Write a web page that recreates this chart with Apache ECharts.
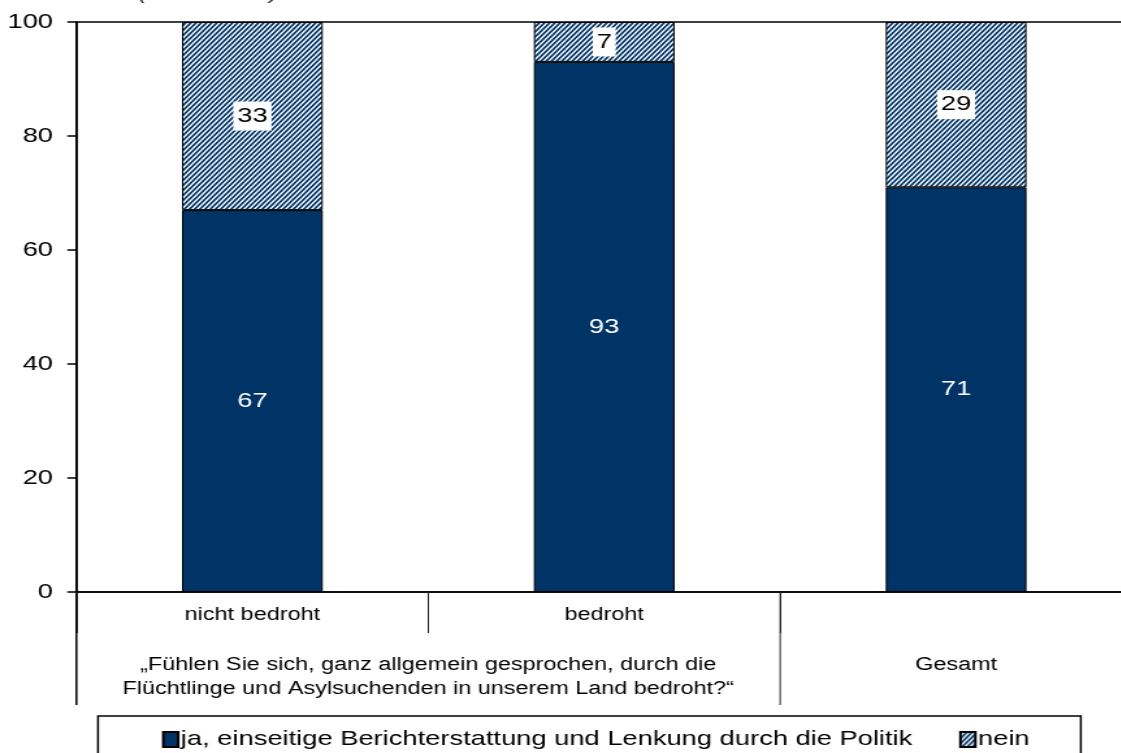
<!DOCTYPE html>
<html>
<head>
<meta charset="utf-8">
<script src="https://cdn.jsdelivr.net/npm/echarts@6/dist/echarts.min.js"></script>
<style>
html,body{margin:0;padding:0;background:#fff;overflow:hidden}
#wrap{width:1121px;height:753px;overflow:hidden;position:relative}
#c{width:900px;height:753px;transform:scaleX(1.3);transform-origin:0 0;position:absolute;left:0;top:0}
</style>
</head>
<body>
<div id="wrap"><div id="c"></div></div>
<script>
// ---- data ----
var categories = ['nicht bedroht', 'bedroht', 'Gesamt'];
var seriesNames = ['ja, einseitige Berichterstattung und Lenkung durch die Politik', 'nein'];
var jaValues = [67, 93, 71];
var neinValues = [33, 7, 29];
var yTicks = [0, 20, 40, 60, 80, 100];
var groupLabel = '\u201EF\u00FChlen Sie sich, ganz allgemein gesprochen, durch die\nFl\u00FCchtlinge und Asylsuchenden in unserem Land bedroht?\u201C';
var totalLabel = 'Gesamt';
var unitLabel = '(in Prozent)';

var NAVY = [0, 51, 102];
var NAVY_HEX = '#003366';
var FONT = 'Liberation Sans, Arial, sans-serif';

function makePattern() {
  var w = 4, h = 5, ss = 6;
  var cv = document.createElement('canvas');
  cv.width = w; cv.height = h;
  var ctx = cv.getContext('2d');
  var img = ctx.createImageData(w, h);
  for (var y = 0; y < h; y++) {
    for (var x = 0; x < w; x++) {
      var cov = 0;
      for (var sy = 0; sy < ss; sy++) {
        for (var sx = 0; sx < ss; sx++) {
          var px = x + (sx + 0.5) / ss, py = y + (sy + 0.5) / ss;
          var f = (px / w + py / h) % 1;
          if (f < 0.55) cov++;
        }
      }
      cov /= ss * ss;
      var i = (y * w + x) * 4;
      img.data[i] = Math.round(255 + (NAVY[0] - 255) * cov);
      img.data[i + 1] = Math.round(255 + (NAVY[1] - 255) * cov);
      img.data[i + 2] = Math.round(255 + (NAVY[2] - 255) * cov);
      img.data[i + 3] = 255;
    }
  }
  ctx.putImageData(img, 0, 0);
  return { image: cv, repeat: 'repeat' };
}
var hatch = makePattern();

var chart = echarts.init(document.getElementById('c'));
var option = {
  animation: false,
  backgroundColor: '#fff',
  grid: { left: 58.8, top: 22, width: 812, bottom: 161, show: true, borderColor: '#000', borderWidth: 1.5, backgroundColor: 'transparent' },
  xAxis: {
    type: 'category',
    data: categories,
    axisLine: { lineStyle: { color: '#000', width: 1.5 } },
    axisTick: { show: true, length: 41, lineStyle: { color: '#222', width: 1 } },
    axisLabel: { fontFamily: FONT, fontSize: 18, color: '#000', margin: 14,
      formatter: function (v) { return v === totalLabel ? '' : v; } }
  },
  yAxis: {
    type: 'value', min: yTicks[0], max: yTicks[yTicks.length - 1], interval: 20,
    axisLine: { show: true, lineStyle: { color: '#000', width: 1.5 } },
    axisTick: { show: true, length: 7, lineStyle: { color: '#000', width: 1.5 } },
    splitLine: { show: false },
    axisLabel: { fontFamily: FONT, fontSize: 21, color: '#000', margin: 18 }
  },
  legend: {
    left: 124.6, top: 729, padding: 0, itemGap: 36, itemWidth: 11.5, itemHeight: 15, icon: 'rect',
    textStyle: { fontFamily: FONT, fontSize: 21, lineHeight: 21, color: '#000', padding: [0, 0, 0, -3] },
    data: seriesNames
  },
  series: [
    {
      name: seriesNames[0], type: 'bar', stack: 's', barWidth: '40%', data: jaValues,
      itemStyle: { color: NAVY_HEX, borderColor: '#000', borderWidth: 1 },
      label: { show: true, position: 'inside', color: '#fff', fontFamily: FONT, fontSize: 21 }
    },
    {
      name: seriesNames[1], type: 'bar', stack: 's', barWidth: '40%', data: neinValues,
      itemStyle: { color: hatch, borderColor: '#000', borderWidth: 1 },
      label: { show: true, position: 'inside', color: '#000', fontFamily: FONT, fontSize: 21,
        backgroundColor: '#fff', padding: [5, 3, 3, 3] }
    }
  ]
};
chart.setOption(option);

var p0 = chart.convertToPixel({ gridIndex: 0 }, [0, 0]);
var p1 = chart.convertToPixel({ gridIndex: 0 }, [1, 0]);
var p2 = chart.convertToPixel({ gridIndex: 0 }, [2, 0]);
var y0 = p0[1];
var band = p1[0] - p0[0];
var leftX = p0[0] - band / 2;
var splitX = (p1[0] + p2[0]) / 2;
var groupX = (p0[0] + p1[0]) / 2;

chart.setOption({
  graphic: [
    { type: 'line', shape: { x1: leftX, y1: y0, x2: leftX, y2: y0 + 113 }, style: { stroke: '#000', lineWidth: 1.5 } },
    { type: 'line', shape: { x1: splitX, y1: y0, x2: splitX, y2: y0 + 113 }, style: { stroke: '#222', lineWidth: 1 } },
    { type: 'text', x: groupX, y: y0 + 85, style: { text: groupLabel, align: 'center', verticalAlign: 'middle', fontFamily: FONT, fontSize: 18, lineHeight: 24, fill: '#000' } },
    { type: 'text', x: p2[0], y: y0 + 73, style: { text: totalLabel, align: 'center', verticalAlign: 'middle', fontFamily: FONT, fontSize: 18, fill: '#000' } },
    { type: 'rect', shape: { x: 75.4, y: 716, width: 756, height: 60 }, style: { fill: 'none', stroke: '#000', lineWidth: 1.5 } },
    { type: 'text', x: 106, y: 4, style: { text: unitLabel, align: 'left', verticalAlign: 'bottom', fontFamily: FONT, fontStyle: 'italic', fontSize: 21, fill: '#404040' } }
  ]
});
</script>
</body>
</html>
